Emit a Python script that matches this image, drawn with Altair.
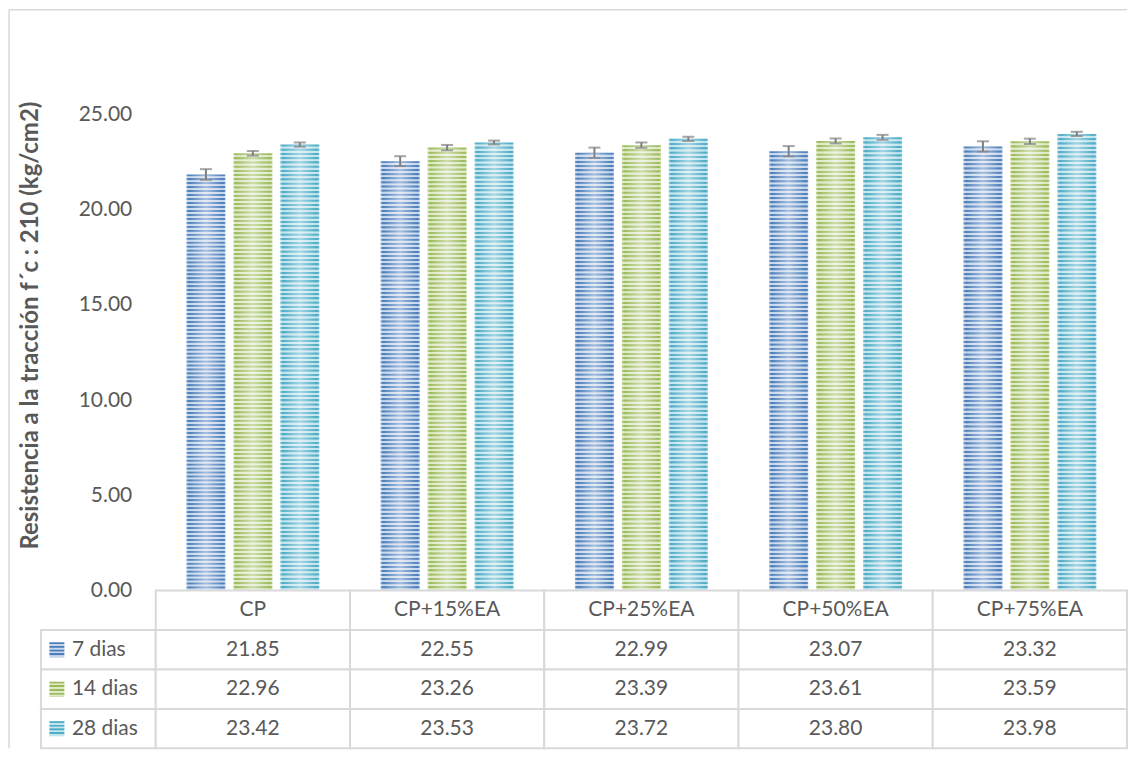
import altair as alt
import pandas as pd

# ---------------- data ----------------
categories = ["CP", "CP+15%EA", "CP+25%EA", "CP+50%EA", "CP+75%EA"]
series = ["7 dias", "14 dias", "28 dias"]
v7 = [21.85, 22.55, 22.99, 23.07, 23.32]
v14 = [22.96, 23.26, 23.39, 23.61, 23.59]
v28 = [23.42, 23.53, 23.72, 23.80, 23.98]
e7 = [0.28, 0.26, 0.27, 0.27, 0.27]
e14 = [0.12, 0.14, 0.14, 0.13, 0.14]
e28 = [0.11, 0.10, 0.11, 0.13, 0.11]
y_ticks = [0, 5, 10, 15, 20, 25]
y_title = "Resistencia a la tracción f´c : 210 (kg/cm2)"

values = {"7 dias": v7, "14 dias": v14, "28 dias": v28}
errors = {"7 dias": e7, "14 dias": e14, "28 dias": e28}

rows = []
for s in series:
    for c, v, e in zip(categories, values[s], errors[s]):
        rows.append({"cat": c, "series": s, "val": v, "err": e})
df = pd.DataFrame(rows)

# table data
table_rows = ["hdr"] + series
cells = []
for c in categories:
    cells.append({"cat": c, "row": "hdr", "label": c})
    for s in series:
        v = values[s][categories.index(c)]
        cells.append({"cat": c, "row": s, "label": f"{v:.2f}"})
cells_df = pd.DataFrame(cells)
legend_df = pd.DataFrame({"row": series})
one_df = pd.DataFrame({"k": [0]})

# ---------------- styles ----------------
FONT = "Lato"
TXT = "#595959"
GRID = "#d9d9d9"
PLOT_W = 973
TOP_H = 582
TAB_H = 158
LEFT_EXT = 147
Y_MAX = 25 * TOP_H / 477.0

dark = {"7 dias": "#4a7ebb", "14 dias": "#9bbb59", "28 dias": "#4bacc6"}
light = {"7 dias": "#c9d7ec", "14 dias": "#dfe9c8", "28 dias": "#c4e4ee"}


def stripes(d, l, n):
    stops = []
    p = 1.0 / n
    for i in range(n):
        o = i * p
        stops += [
            alt.GradientStop(offset=round(o, 6), color=d),
            alt.GradientStop(offset=round(o + 0.35 * p, 6), color=d),
            alt.GradientStop(offset=round(o + 0.55 * p, 6), color=l),
            alt.GradientStop(offset=round(o + 0.9 * p, 6), color=l),
        ]
    stops.append(alt.GradientStop(offset=1, color=d))
    return alt.LinearGradient(gradient="linear", stops=stops, x1=0, x2=0, y1=0, y2=1)


glow = alt.LinearGradient(
    gradient="linear",
    stops=[
        alt.GradientStop(offset=0, color="rgba(255,255,255,0.35)"),
        alt.GradientStop(offset=0.06, color="rgba(255,255,255,0)"),
        alt.GradientStop(offset=0.5, color="rgba(255,255,255,0.5)"),
        alt.GradientStop(offset=0.94, color="rgba(255,255,255,0)"),
        alt.GradientStop(offset=1, color="rgba(255,255,255,0.2)"),
    ],
    x1=0, x2=1, y1=0, y2=0,
)

X = alt.X("cat:N", sort=categories, axis=None,
          scale=alt.Scale(domain=categories, paddingInner=0.316, paddingOuter=0.158))
XO = alt.XOffset("series:N", sort=series,
                 scale=alt.Scale(domain=series, paddingInner=0.17, paddingOuter=0))
Y = alt.Y("val:Q",
          scale=alt.Scale(domain=[0, Y_MAX], nice=False, zero=True),
          axis=alt.Axis(values=y_ticks, format=".2f", title=y_title,
                        domain=False, ticks=False, grid=False,
                        labelFont=FONT, labelFontSize=21, labelColor=TXT,
                        labelPadding=24, titleFont=FONT, titleFontSize=24,
                        titleFontWeight="bold", titleColor=TXT,
                        titlePadding=36, titleY=316))

base = alt.Chart(df)

bar_layers = []
for s in series:
    sd = base.transform_filter(alt.datum.series == s)
    bar_layers.append(sd.mark_bar(fill=stripes(dark[s], light[s], 105)).encode(x=X, xOffset=XO, y=Y))
    bar_layers.append(sd.mark_bar(fill=glow).encode(x=X, xOffset=XO, y="val:Q"))

err = base.transform_calculate(lo="datum.val - datum.err", hi="datum.val + datum.err")
err_rule = err.mark_rule(color="#7f7f7f", strokeWidth=2).encode(
    x=X, xOffset=XO, y="lo:Q", y2="hi:Q")
err_lo = err.mark_tick(color="#7f7f7f", orient="horizontal", size=12, thickness=2).encode(
    x=X, xOffset=XO, y="lo:Q")
err_hi = err.mark_tick(color="#7f7f7f", orient="horizontal", size=12, thickness=2).encode(
    x=X, xOffset=XO, y="hi:Q")

border_top = alt.Chart(one_df).mark_rule(color=GRID, strokeWidth=1.5).encode(
    x=alt.value(-LEFT_EXT), x2=alt.value(PLOT_W), y=alt.value(0))
border_left = alt.Chart(one_df).mark_rule(color=GRID, strokeWidth=1.5).encode(
    x=alt.value(-LEFT_EXT), y=alt.value(0), y2=alt.value(TOP_H))

top = alt.layer(border_top, border_left, *bar_layers, err_rule, err_lo, err_hi).properties(
    width=PLOT_W, height=TOP_H)

# ---------------- table ----------------
TX = alt.X("cat:N", sort=categories, axis=None,
           scale=alt.Scale(domain=categories, paddingInner=0, paddingOuter=0))
TY = alt.Y("row:N", sort=table_rows, axis=None,
           scale=alt.Scale(domain=table_rows, paddingInner=0, paddingOuter=0))

tbase = alt.Chart(cells_df)
cell_rect = tbase.mark_rect(fill="white", stroke=GRID, strokeWidth=2).encode(x=TX, y=TY)
cell_text = tbase.mark_text(font=FONT, fontSize=21, color=TXT, baseline="middle").encode(
    x=TX, y=TY, text="label:N")

lbase = alt.Chart(legend_df)
leg_rect = lbase.mark_rect(fill="white", stroke=GRID, strokeWidth=2).encode(
    x=alt.value(-115), x2=alt.value(0), y=TY)
leg_text = lbase.mark_text(font=FONT, fontSize=21, color=TXT, align="left", baseline="middle").encode(
    x=alt.value(-84), y=TY, text="row:N")
leg_sw = []
for s in series:
    leg_sw.append(lbase.transform_filter(alt.datum.row == s).mark_square(
        size=225, opacity=1, fill=stripes(dark[s], light[s], 4)).encode(x=alt.value(-99), y=TY))

tab_left = alt.Chart(one_df).mark_rule(color=GRID, strokeWidth=1.5).encode(
    x=alt.value(-LEFT_EXT), y=alt.value(0), y2=alt.value(TAB_H))

table = alt.layer(tab_left, leg_rect, cell_rect, cell_text, leg_text, *leg_sw).properties(
    width=PLOT_W, height=TAB_H)

chart = (
    alt.vconcat(top, table, spacing=0, bounds="flush")
    .properties(padding=0)
    .configure(font=FONT)
    .configure_view(stroke=None)
)

chart.save("out.html", embed_options={"renderer": "svg", "actions": False})
